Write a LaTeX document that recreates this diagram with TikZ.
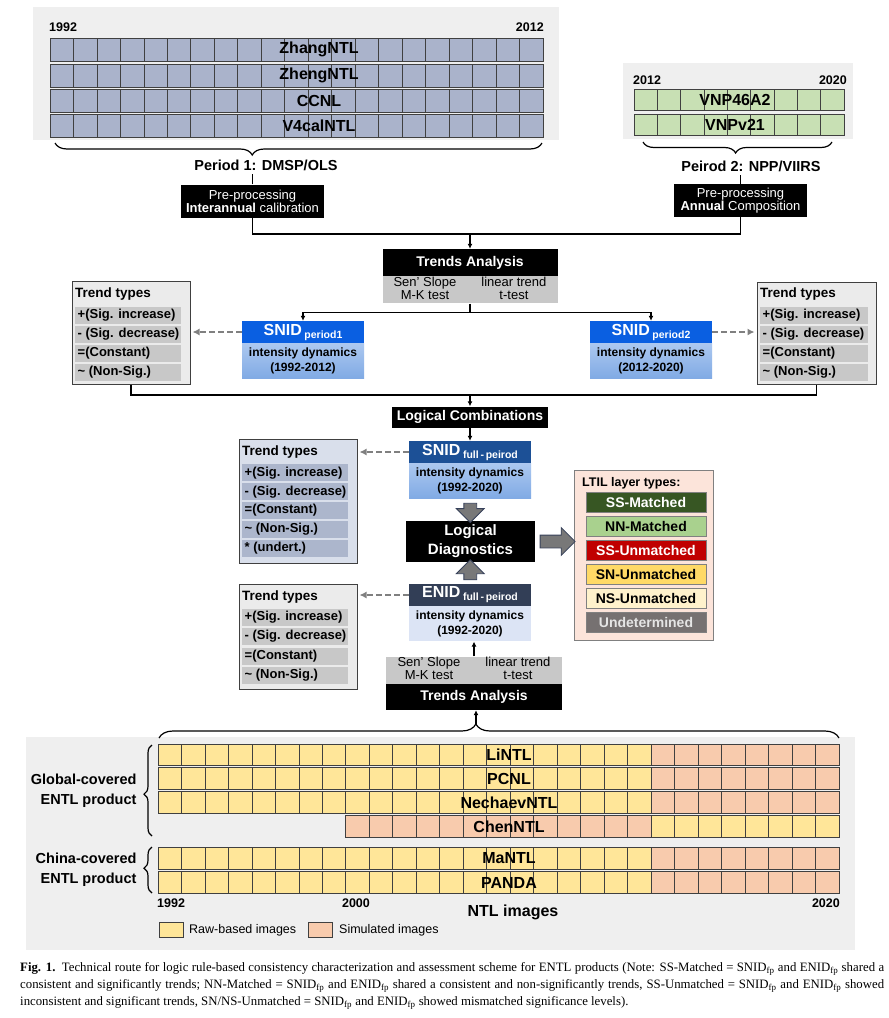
\documentclass[tikz,border=0pt]{standalone}
\usepackage{fontspec}
\setmainfont{Liberation Sans}
\newfontfamily\captionfont{Liberation Serif}
\usetikzlibrary{arrows.meta,calc,shapes.arrows,decorations.pathreplacing}
\newcommand\pxsize[2]{\fontsize{#1}{#2}\selectfont}
\definecolor{panelgray}{RGB}{239,239,239}
\definecolor{dmspcell}{RGB}{170,179,203}
\definecolor{viirscell}{RGB}{200,224,180}
\definecolor{rawcell}{RGB}{255,230,153}
\definecolor{simcell}{RGB}{248,203,173}
\definecolor{cellline}{RGB}{64,64,64}
\definecolor{snidblue}{RGB}{10,95,225}
\definecolor{snidfull}{RGB}{28,80,150}
\definecolor{enidhead}{RGB}{50,62,86}
\definecolor{bodytop}{RGB}{172,200,240}
\definecolor{bodybot}{RGB}{128,170,228}
\definecolor{enidbody}{RGB}{220,228,245}
\definecolor{ttback}{RGB}{235,235,235}
\definecolor{ttitemgray}{RGB}{200,200,200}
\definecolor{ttblueback}{RGB}{217,223,235}
\definecolor{ttblueitem}{RGB}{172,182,204}
\definecolor{tagray}{RGB}{200,200,200}
\definecolor{ltilback}{RGB}{252,228,218}
\definecolor{ssmatch}{RGB}{55,86,35}
\definecolor{nnmatch}{RGB}{169,209,142}
\definecolor{ssun}{RGB}{192,0,0}
\definecolor{snun}{RGB}{255,217,102}
\definecolor{nsun}{RGB}{255,242,204}
\definecolor{undet}{RGB}{118,113,113}
\definecolor{dashgray}{RGB}{128,128,128}
\definecolor{blockgray}{RGB}{120,120,120}
\definecolor{blockline}{RGB}{55,65,90}

\begin{document}
\begin{tikzpicture}[x=1pt, y=-1pt,
    cellbox/.style = {draw=cellline, line width=0.8pt},
    rowlabel/.style = {font=\bfseries\pxsize{16}{16}, inner sep=0pt},
    year/.style = {font=\bfseries\pxsize{12.5}{12.5}, inner sep=0pt},
    blackbox/.style = {fill=black, text=white, inner sep=0pt, align=center},
    graybox/.style = {fill=tagray, inner sep=0pt, minimum height=27pt, font=\pxsize{13}{11.5}},
    link/.style = {line width=1.6pt},
    arr/.style = {link, -{Latex[length=5pt, width=5pt]}},
    dasharr/.style = {dashgray, line width=2pt, dash pattern=on 6pt off 3pt, -{Latex[length=7pt, width=7pt]}, shorten >=2pt},
    head/.style = {minimum width=122pt, minimum height=22pt, inner sep=0pt, text=white, font=\bfseries\pxsize{16}{16}},
    body/.style = {anchor=north, minimum width=122pt, minimum height=35pt, inner sep=0pt, align=center, font=\bfseries\pxsize{12}{15}},
    ttbox/.style = {draw=cellline, line width=1pt, inner sep=0pt},
    tttitle/.style = {anchor=west, inner sep=0pt, font=\bfseries\pxsize{13.5}{13.5}},
    ttitem/.style = {anchor=west, minimum width=106pt, minimum height=17pt, inner sep=0pt, font=\bfseries\pxsize{13}{13}},
    layer/.style = {draw=gray, line width=0.6pt, minimum width=120pt, minimum height=20pt, inner sep=0pt, font=\bfseries\pxsize{14}{14}},
    bigarrow/.style = {single arrow, draw=blockline, fill=blockgray, line width=0.8pt, inner sep=6pt, single arrow head extend=7.5pt, single arrow head indent=0pt, minimum height=#1},
    bracestyle/.style = {decorate, line width=1.2pt}]
    \useasboundingbox (0,0) rectangle (889,1018);
    \fill[white] (0,0) rectangle (889,1018);

    % period 1 products
    \fill[panelgray] (33,7) rectangle (559,140);
    \node[year, anchor=west] (dmspstart) at (49,27) {1992};
    \node[year, anchor=east] (dmspend) at (544,27) {2012};
    \foreach \lbl/\yy [count=\k] in {ZhangNTL/49.5, ZhengNTL/75.5, CCNL/100.5, V4calNTL/125.5} {
        \foreach \i in {0,...,20}
            \draw[cellbox, fill=dmspcell] ({50+\i*23.476}, {\yy-11.5}) rectangle ++(23.476, 23);
        \node[rowlabel] (dmsp\k) at (319, \yy) {\lbl};
    }
    \draw[bracestyle, decoration={brace, amplitude=12pt, aspect=0.405, mirror}] (55,143) -- (542,143);
    \node[font=\bfseries\pxsize{14.5}{14.5}] (per1) at (266,165) {Period 1: DMSP/OLS};
    \node[blackbox, minimum width=143pt, minimum height=33pt, font=\pxsize{13}{12}] (pre1) at (252.5,201) {Pre-processing\\\textbf{Interannual} calibration};

    % period 2 products
    \fill[panelgray] (623,63) rectangle (853,139);
    \node[year, anchor=west] (viirsstart) at (633,80) {2012};
    \node[year, anchor=east] (viirsend) at (847,80) {2020};
    \foreach \lbl/\yy [count=\k] in {VNP46A2/99.5, VNPv21/125} {
        \foreach \i in {0,...,8}
            \draw[cellbox, fill=viirscell] ({634+\i*23.333}, {\yy-10.5}) rectangle ++(23.333, 21);
        \node[rowlabel] (viirs\k) at (735, \yy) {\lbl};
    }
    \draw[bracestyle, decoration={brace, amplitude=11pt, aspect=0.49, mirror}] (643,142) -- (832,142);
    \node[font=\bfseries\pxsize{14.5}{14.5}] (per2) at (751,166) {Peirod 2: NPP/VIIRS};
    \node[blackbox, minimum width=133pt, minimum height=33pt, font=\pxsize{13}{12}] (pre2) at (740.5,200.5) {Pre-processing\\\textbf{Annual} Composition};

    \draw[link] (pre1.north) -- (pre1.north |- per1.south);
    \draw[link] (pre2.north) -- (pre2.north |- per2.south);
    \coordinate (join1) at (470,234);
    \draw[link] (pre1.south) |- (join1) -| (pre2.south);

    % trends analysis of the two periods
    \node[blackbox, minimum width=175pt, minimum height=27pt, font=\bfseries\pxsize{14}{14}] (ta1) at (470,262.5) {Trends Analysis};
    \node[graybox, minimum width=175pt, anchor=north] (tag1) at (ta1.south) {\begin{tabular}{@{}c@{\hspace{25pt}}c@{}}Sen' Slope & linear trend\\M-K test & t-test\end{tabular}};
    \draw[arr] (join1) -- (ta1.north);

    \node[head, fill=snidblue] (snid1) at (303,332) {SNID\,\raisebox{-3pt}{\pxsize{10.5}{10.5}period1}};
    \node[body, top color=bodytop, bottom color=bodybot] (snid1b) at (snid1.south) {intensity dynamics\\(1992-2012)};
    \node[head, fill=snidblue] (snid2) at (651,332) {SNID\,\raisebox{-3pt}{\pxsize{10.5}{10.5}period2}};
    \node[body, top color=bodytop, bottom color=bodybot] (snid2b) at (snid2.south) {intensity dynamics\\(2012-2020)};
    \draw[link] (tag1.south) -- ++(0,9) coordinate (split1);
    \draw[arr] (split1) -| (snid1.north);
    \draw[arr] (split1) -| (snid2.north);

    % trend types, period 1
    \node[ttbox, fill=ttback, minimum width=118pt, minimum height=103pt] (tt1) at (131,332.5) {};
    \node[tttitle] (tt1title) at (75,294) {Trend types};
    \foreach \txt/\yy [count=\k] in {+(Sig. increase)/315, - (Sig. decrease)/334, =(Constant)/353, \textasciitilde\ (Non-Sig.)/372}
        \node[ttitem, fill=ttitemgray] (tt1item\k) at (75,\yy) {\makebox[101pt][l]{\txt}};
    % trend types, period 2
    \node[ttbox, fill=ttback, minimum width=119pt, minimum height=102pt] (tt2) at (816.5,333) {};
    \node[tttitle] (tt2title) at (760,294) {Trend types};
    \foreach \txt/\yy [count=\k] in {+(Sig. increase)/315, - (Sig. decrease)/334, =(Constant)/353, \textasciitilde\ (Non-Sig.)/372}
        \node[ttitem, fill=ttitemgray, minimum width=108pt] (tt2item\k) at (760,\yy) {\makebox[103pt][l]{\txt}};
    \draw[dasharr] (snid1.west) -- (snid1.west -| tt1.east);
    \draw[dasharr] (snid2.east) -- (snid2.east -| tt2.west);

    % logical combination
    \coordinate (join2) at (470,395);
    \draw[link] (tt1.south) |- (join2) -| (tt2.south);
    \node[blackbox, minimum width=156pt, minimum height=21pt, font=\bfseries\pxsize{14}{14}] (comb) at (470,417) {Logical Combinations};
    \draw[arr] (join2) -- (comb.north);

    \node[head, fill=snidfull] (snidf) at (470,452) {SNID\,\raisebox{-3pt}{\pxsize{10.5}{10.5}full\,-\,peirod}};
    \node[body, top color=bodytop, bottom color=bodybot] (snidfb) at (snidf.south) {intensity dynamics\\(1992-2020)};
    \draw[arr] (comb.south) -- (snidf.north);

    \node[ttbox, fill=ttblueback, minimum width=118pt, minimum height=124pt] (tt3) at (298,501) {};
    \node[tttitle] (tt3title) at (242,452) {Trend types};
    \foreach \txt/\yy [count=\k] in {+(Sig. increase)/472.7, - (Sig. decrease)/491.7, =(Constant)/510.5, \textasciitilde\ (Non-Sig.)/529.5, * (undert.)/548.5}
        \node[ttitem, fill=ttblueitem] (tt3item\k) at (242,\yy) {\makebox[101pt][l]{\txt}};
    \draw[dasharr] (snidf.west) -- (snidf.west -| tt3.east);

    % logical diagnostics
    \node[blackbox, minimum width=129pt, minimum height=41pt, font=\bfseries\pxsize{15}{19}] (diag) at (470.5,541.5) {Logical\\Diagnostics};
    \node[bigarrow=19pt, rotate=-90] (downarrow) at ($(snidfb.south)!0.5!(diag.north)$) {};

    \node[head, fill=enidhead] (enid) at (470,595) {ENID\,\raisebox{-3pt}{\pxsize{10.5}{10.5}full\,-\,peirod}};
    \node[body, fill=enidbody] (enidb) at (enid.south) {intensity dynamics\\(1992-2020)};
    \node[bigarrow=20pt, rotate=90] (uparrow) at ($(enid.north)!0.5!(diag.south)$) {};

    \node[ttbox, fill=ttback, minimum width=118pt, minimum height=105pt] (tt4) at (298,636.5) {};
    \node[tttitle] (tt4title) at (242,597) {Trend types};
    \foreach \txt/\yy [count=\k] in {+(Sig. increase)/617, - (Sig. decrease)/636.5, =(Constant)/656, \textasciitilde\ (Non-Sig.)/675}
        \node[ttitem, fill=ttitemgray] (tt4item\k) at (242,\yy) {\makebox[101pt][l]{\txt}};
    \draw[dasharr] (enid.west) -- (enid.west -| tt4.east);

    % layer types
    \node[draw=gray, fill=ltilback, line width=0.8pt, minimum width=139pt, minimum height=170pt] (ltil) at (643.5,555) {};
    \node[anchor=west, inner sep=0pt, font=\bfseries\pxsize{12.5}{12.5}] (ltiltitle) at (582,483) {LTIL layer types:};
    \node[layer, fill=ssmatch, text=white] (ssm) at (646,502.5) {SS-Matched};
    \node[layer, fill=nnmatch] (nnm) at (646,526.5) {NN-Matched};
    \node[layer, fill=ssun, text=white] (ssu) at (646,550.5) {SS-Unmatched};
    \node[layer, fill=snun] (snu) at (646,574) {SN-Unmatched};
    \node[layer, fill=nsun] (nsu) at (646,598) {NS-Unmatched};
    \node[layer, fill=undet, text=gray!20] (und) at (646,622.5) {Undetermined};
    \node[bigarrow=35pt] (rightarrow) at ($(diag.east)!0.5!(diag.east -| ltil.west)$) {};

    % trends analysis of ENTL products
    \node[blackbox, minimum width=176pt, minimum height=26pt, font=\bfseries\pxsize{14}{14}] (ta2) at (474,697) {Trends Analysis};
    \node[graybox, minimum width=176pt, anchor=south] (tag2) at (ta2.north) {\begin{tabular}{@{}c@{\hspace{25pt}}c@{}}Sen' Slope & linear trend\\M-K test & t-test\end{tabular}};
    \draw[arr] (tag2.north) -- (tag2.north |- enidb.south);

    % ENTL products
    \fill[panelgray] (26,737) rectangle (855,950);
    \draw[bracestyle, decoration={brace, amplitude=14pt, aspect=0.466}] (159,738) -- (839,738);
    \coordinate (btip) at (476,725);
    \draw[arr] (btip) -- (btip |- ta2.south);
    \foreach \lbl/\yy [count=\k] in {LiNTL/755, PCNL/778.5, NechaevNTL/802.5, MaNTL/858.5, PANDA/882.5} {
        \foreach \i in {0,...,20}
            \draw[cellbox, fill=rawcell] ({158+\i*23.483}, {\yy-10.75}) rectangle ++(23.483, 21.5);
        \foreach \i in {21,...,28}
            \draw[cellbox, fill=simcell] ({158+\i*23.483}, {\yy-10.75}) rectangle ++(23.483, 21.5);
        \node[rowlabel] (entl\k) at (509, \yy) {\lbl};
    }
    \foreach \i in {8,...,20}
        \draw[cellbox, fill=simcell] ({158+\i*23.483}, 815.75) rectangle ++(23.483, 21.5);
    \foreach \i in {21,...,28}
        \draw[cellbox, fill=rawcell] ({158+\i*23.483}, 815.75) rectangle ++(23.483, 21.5);
    \node[rowlabel] (chen) at (509,826.5) {ChenNTL};

    \draw[bracestyle, decoration={brace, amplitude=8pt, aspect=0.46}] (152,836) -- (152,745);
    \draw[bracestyle, decoration={brace, amplitude=8pt, aspect=0.54}] (152,893) -- (152,847);
    \node[anchor=east, align=right, font=\bfseries\pxsize{14.5}{20}] (global) at (140,791) {Global-covered\\ENTL product};
    \node[anchor=east, align=right, font=\bfseries\pxsize{14.5}{20}] (china) at (140,870) {China-covered\\ENTL product};

    \node[year, anchor=west] (entlstart) at (157,903) {1992};
    \node[year] (entlmid) at (356,903) {2000};
    \node[year, anchor=east] (entlend) at (840,903) {2020};
    \node[font=\bfseries\pxsize{16}{16}] (ntlimages) at (513,912) {NTL images};

    \node[draw=cellline, line width=0.8pt, fill=rawcell, minimum width=24pt, minimum height=15pt] (rawkey) at (171,930) {};
    \node[anchor=west, inner sep=0pt, font=\pxsize{12.5}{12.5}] (rawtxt) at (189,930) {Raw-based images};
    \node[draw=cellline, line width=0.8pt, fill=simcell, minimum width=24pt, minimum height=15pt] (simkey) at (320.5,930) {};
    \node[anchor=west, inner sep=0pt, font=\pxsize{12.5}{12.5}] (simtxt) at (339,930) {Simulated images};

    % caption
    \node[anchor=north west, inner sep=0pt, text width=864pt, align=justify, font=\captionfont\pxsize{12.8}{17}] (caption) at (20,962) {\textbf{Fig. 1.}\enspace Technical route for logic rule-based consistency characterization and assessment scheme for ENTL products (Note: SS-Matched = SNID\textsubscript{fp} and ENID\textsubscript{fp} shared a\linebreak consistent and significantly trends; NN-Matched = SNID\textsubscript{fp} and ENID\textsubscript{fp} shared a consistent and non-significantly trends, SS-Unmatched = SNID\textsubscript{fp} and ENID\textsubscript{fp} showed\linebreak inconsistent and significant trends, SN/NS-Unmatched = SNID\textsubscript{fp} and ENID\textsubscript{fp} showed mismatched significance levels).};
\end{tikzpicture}
\end{document}
